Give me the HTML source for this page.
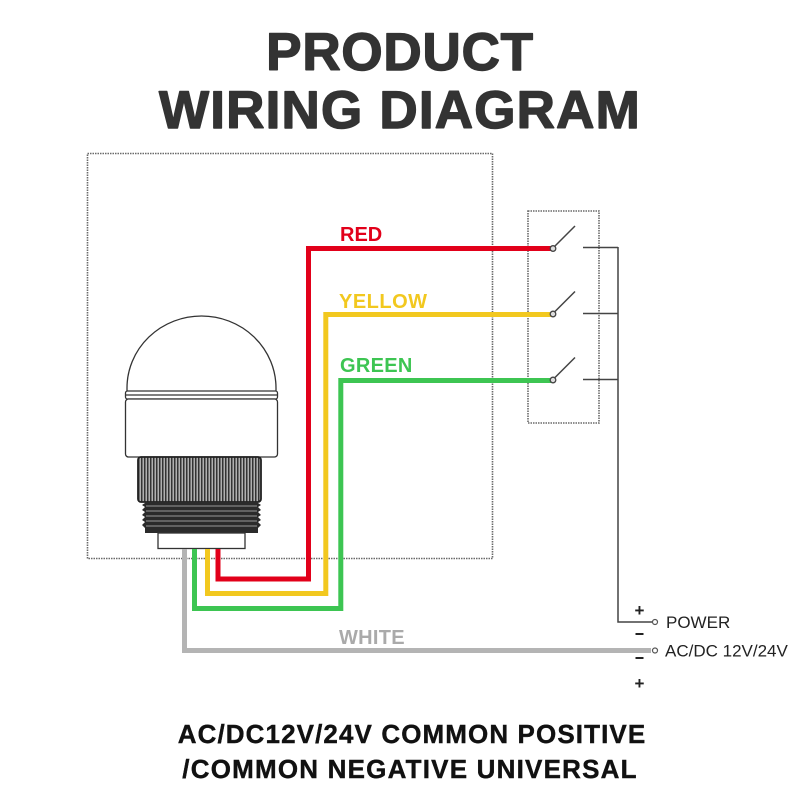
<!DOCTYPE html>
<html>
<head>
<meta charset="utf-8">
<style>
html,body{margin:0;padding:0;background:#fff;}
svg{display:block;}
</style>
</head>
<body>
<svg width="800" height="800" viewBox="0 0 800 800" xmlns="http://www.w3.org/2000/svg">
<defs>
<pattern id="knurl" x="138" y="0" width="3" height="10" patternUnits="userSpaceOnUse">
<rect x="0" y="0" width="3" height="10" fill="#b0b0b0"/>
<rect x="0" y="0" width="1.5" height="10" fill="#333"/>
</pattern>
</defs>
<rect width="800" height="800" fill="#fff"/>

<!-- Title -->
<g font-family="'Liberation Sans', Arial, sans-serif" font-weight="bold" fill="#333" stroke="#333" stroke-width="1.4" stroke-linejoin="round" text-anchor="middle">
<text x="400" y="70" font-size="53" letter-spacing="0.8">PRODUCT</text>
<text x="400" y="128" font-size="53" letter-spacing="1.2">WIRING DIAGRAM</text>
</g>

<!-- big dotted box -->
<rect x="87.5" y="153.5" width="405" height="405" fill="none" stroke="#6a6a6a" stroke-width="1.6" stroke-dasharray="1.5 1"/>
<!-- switch dotted box -->
<rect x="528" y="211" width="71" height="212" fill="none" stroke="#6a6a6a" stroke-width="1.6" stroke-dasharray="1.5 1"/>

<!-- Lamp -->
<g stroke="#333" stroke-width="1.3" fill="#fff">
<path d="M127,392 L127,388 A74.5,72 0 0 1 276,388 L276,392 Z"/>
<rect x="125.5" y="391" width="152" height="8" rx="2"/>
<line x1="126" y1="395" x2="277" y2="395"/>
<rect x="125.5" y="399" width="152" height="58" rx="3"/>
</g>
<!-- knurled nut -->
<rect x="138" y="457" width="123" height="45" rx="3" fill="url(#knurl)" stroke="#222" stroke-width="1.8"/>
<!-- threads -->
<g>
<rect x="145" y="502" width="113" height="31" fill="#2b2b2b"/>
<path d="M145,503 l-3,2 l3,2 l-3,3 l3,2 l-3,3 l3,2 l-3,3 l3,2 l-3,3 l3,3 Z" fill="#2b2b2b"/>
<path d="M258,503 l3,2 l-3,2 l3,3 l-3,2 l3,3 l-3,2 l3,3 l-3,2 l3,3 l-3,3 Z" fill="#2b2b2b"/>
<g stroke="#9a9a9a" stroke-width="0.9">
<line x1="146" y1="506" x2="257" y2="506"/>
<line x1="146" y1="511" x2="257" y2="511"/>
<line x1="146" y1="516" x2="257" y2="516"/>
<line x1="146" y1="521" x2="257" y2="521"/>
<line x1="146" y1="526" x2="257" y2="526"/>
</g>
</g>
<rect x="158" y="533" width="87" height="15.5" fill="#fff" stroke="#333" stroke-width="1.3"/>

<!-- Wires -->
<g fill="none" stroke-width="5" stroke-linejoin="miter" stroke-linecap="butt">
<polyline points="184.5,549 184.5,650.5 651,650.5" stroke="#b4b4b4"/>
<polyline points="194.5,549 194.5,608.5 340.8,608.5 340.8,380.5 551,380.5" stroke="#3dc552"/>
<polyline points="207.5,549 207.5,593.5 325.8,593.5 325.8,314.5 551,314.5" stroke="#f2c81f"/>
<polyline points="218,549 218,579 308.5,579 308.5,248.5 551,248.5" stroke="#e2001a"/>
</g>

<!-- wire labels -->
<g font-family="'Liberation Sans', Arial, sans-serif" font-weight="bold" font-size="20">
<text x="340" y="241" fill="#e2001a">RED</text>
<text x="339" y="308" fill="#f2c81f" letter-spacing="0.5">YELLOW</text>
<text x="340" y="372" fill="#3dc552" letter-spacing="0.3">GREEN</text>
<text x="339" y="644" fill="#aaaaaa" letter-spacing="0.3">WHITE</text>
</g>

<!-- switches -->
<g stroke="#444" stroke-width="1.5" fill="none">
<line x1="555" y1="246" x2="575" y2="226"/>
<line x1="555" y1="311.5" x2="575" y2="291.5"/>
<line x1="555" y1="377.5" x2="575" y2="357.5"/>
<line x1="583" y1="247.5" x2="618" y2="247.5"/>
<line x1="583" y1="313.5" x2="618" y2="313.5"/>
<line x1="583" y1="379.5" x2="618" y2="379.5"/>
<polyline points="618,247 618,622 652,622"/>
</g>
<g stroke="#444" stroke-width="1.3" fill="#ddd">
<circle cx="553" cy="248.5" r="2.8"/>
<circle cx="553" cy="314" r="2.8"/>
<circle cx="553" cy="380" r="2.8"/>
</g>
<g stroke="#555" stroke-width="1.2" fill="#fff">
<circle cx="655" cy="622" r="2.5"/>
<circle cx="655" cy="650.5" r="2.5"/>
</g>

<!-- power labels -->
<g font-family="'Liberation Sans', Arial, sans-serif" fill="#222">
<text x="666" y="628" font-size="17">POWER</text>
<text x="665" y="656.5" font-size="17">AC/DC 12V/24V</text>
<text x="639.5" y="616" font-size="17" font-weight="bold" text-anchor="middle">+</text>
<text x="639.5" y="689" font-size="17" font-weight="bold" text-anchor="middle">+</text>
</g>
<g stroke="#222" stroke-width="2">
<line x1="635.5" y1="634" x2="643.5" y2="634"/>
<line x1="635.5" y1="658" x2="643.5" y2="658"/>
</g>

<!-- bottom text -->
<g font-family="'Liberation Sans', Arial, sans-serif" font-weight="bold" fill="#111" stroke="#111" stroke-width="0.4" font-size="26" text-anchor="middle">
<text x="412" y="743" letter-spacing="1.1">AC/DC12V/24V COMMON POSITIVE</text>
<text x="410" y="778" letter-spacing="1.2">/COMMON NEGATIVE UNIVERSAL</text>
</g>
</svg>
</body>
</html>
